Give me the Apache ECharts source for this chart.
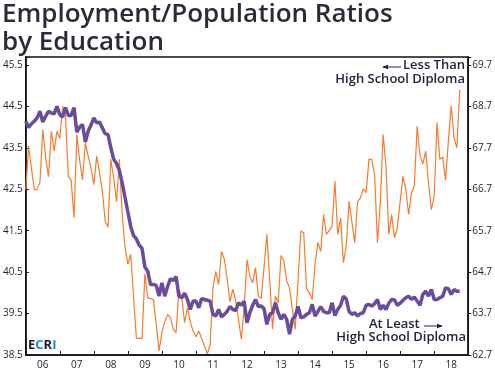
<!DOCTYPE html>
<html>
<head>
<meta charset="utf-8">
<script src="https://cdn.jsdelivr.net/npm/echarts@6/dist/echarts.min.js"></script>
<style>
  html, body { margin: 0; padding: 0; background: #fff; }
  #chart { width: 495px; height: 375px; }
</style>
</head>
<body>
<div id="chart"></div>
<script>
// monthly, Jan 2006 .. Oct 2018
const atLeastHS = [
  44.14, 43.99, 44.08, 44.14, 44.22, 44.38, 44.12, 44.26, 44.38, 44.34, 44.32, 44.50,
  44.30, 44.24, 44.47, 44.28, 44.28, 44.47, 43.88, 44.00, 44.06, 43.64, 43.90, 44.05,
  44.22, 44.10, 44.12, 43.98, 43.84, 43.82, 43.50, 43.22, 43.12, 42.95, 42.65, 42.30,
  41.95, 41.60, 41.38, 41.30, 41.15, 41.07, 40.62, 40.52, 40.20, 40.20, 40.18, 39.92,
  40.24, 39.92, 40.15, 40.34, 40.30, 40.39, 39.92, 39.88, 39.99, 39.84, 39.60, 39.80,
  39.80, 39.64, 39.86, 39.84, 39.82, 39.80, 39.48, 39.44, 39.60, 39.42, 39.48, 39.55,
  39.67, 39.60, 39.57, 39.76, 39.70, 39.80, 39.28, 39.52, 39.70, 39.84, 39.67, 39.68,
  39.62, 39.24, 39.48, 39.52, 39.76, 39.52, 39.36, 39.48, 39.36, 39.00, 39.36, 39.44,
  39.67, 39.40, 39.42, 39.48, 39.52, 39.72, 39.44, 39.55, 39.67, 39.55, 39.52, 39.52,
  39.76, 39.45, 39.60, 39.70, 39.92, 39.85, 39.55, 39.48, 39.52, 39.44, 39.50, 39.52,
  39.70, 39.72, 39.68, 39.74, 39.84, 39.60, 39.70, 39.60, 39.75, 39.84, 39.83, 39.70,
  39.75, 39.82, 39.88, 39.92, 39.84, 39.90, 39.80, 39.70, 39.96, 40.04, 39.92, 40.08,
  39.84, 39.84, 39.88, 39.92, 40.12, 40.10, 39.96, 40.08, 40.04, 40.04
];
const lessThanHS = [
  66.70, 67.74, 67.20, 66.69, 66.69, 66.87, 68.14, 67.46, 67.00, 68.10, 67.62, 68.10,
  67.92, 68.70, 68.46, 67.01, 66.92, 66.01, 68.02, 67.40, 66.93, 67.82, 67.50, 67.22,
  66.81, 67.50, 67.10, 66.65, 65.93, 65.78, 67.42, 66.97, 66.40, 67.42, 66.09, 65.29,
  64.89, 65.13, 64.10, 63.10, 63.10, 63.10, 64.66, 64.08, 64.06, 64.04, 63.45, 62.80,
  63.24, 63.50, 63.68, 63.60, 63.32, 63.24, 64.28, 64.08, 63.48, 63.84, 63.50, 63.28,
  63.14, 63.28, 63.10, 62.92, 62.73, 62.94, 64.32, 64.72, 64.40, 65.20, 65.02, 64.54,
  63.98, 64.29, 64.02, 63.56, 63.08, 63.84, 65.00, 64.60, 64.44, 64.81, 64.12, 64.06,
  64.80, 65.61, 64.52, 63.32, 64.12, 63.96, 65.10, 64.97, 64.48, 64.32, 63.80, 63.32,
  64.50, 65.69, 65.65, 64.30, 64.20, 64.04, 64.89, 65.41, 65.20, 66.09, 65.61, 65.70,
  65.81, 66.89, 65.61, 66.01, 64.93, 65.33, 66.41, 65.90, 65.41, 66.40, 66.49, 66.71,
  66.61, 67.42, 67.42, 67.05, 65.41, 66.37, 68.02, 67.25, 65.61, 66.09, 65.53, 65.77,
  66.40, 67.01, 66.69, 66.09, 66.61, 66.79, 68.22, 67.50, 67.31, 67.62, 66.85, 66.21,
  66.53, 68.31, 67.42, 67.48, 66.92, 67.86, 68.72, 67.94, 67.70, 69.10
];

// axis runs Jan 2006 .. Jan 2019
const months = [];
for (let y = 2006; y <= 2019; y++) {
  for (let m = 1; m <= 12; m++) {
    months.push(y + '-' + String(m).padStart(2, '0'));
    if (y === 2019) break;
  }
}
const leftTicks = [38.5, 39.5, 40.5, 41.5, 42.5, 43.5, 44.5, 45.5];
const rightTicks = [62.7, 63.7, 64.7, 65.7, 66.7, 67.7, 68.7, 69.7];

const ink = '#23243a';
const font = 'Open Sans';

function tickFmt(list) {
  return v => list.some(t => Math.abs(t - v) < 0.01) ? v.toFixed(1) : '';
}

const chart = echarts.init(document.getElementById('chart'));
chart.setOption({
  animation: false,
  title: {
    text: 'Employment/Population Ratios\nby Education',
    left: 2, top: 1, padding: 0,
    textStyle: { fontFamily: font, fontSize: 26, lineHeight: 28, fontWeight: 600, color: '#2b2b38' }
  },
  grid: {
    left: 23, right: 23, top: 57, bottom: 20,
    show: true, borderColor: '#111', borderWidth: 1.5, backgroundColor: 'transparent'
  },
  xAxis: {
    type: 'category',
    data: months,
    boundaryGap: false,
    axisLine: { lineStyle: { color: '#111', width: 1.5 } },
    axisTick: {
      inside: true, length: 4, lineStyle: { color: '#111' },
      interval: (i, v) => v.endsWith('-01')
    },
    axisLabel: {
      interval: (i, v) => v.endsWith('-07'),
      formatter: v => v.slice(2, 4),
      fontFamily: font, fontSize: 10, color: ink, margin: 5
    },
    splitLine: { show: false }
  },
  yAxis: [
    {
      type: 'value', position: 'left',
      min: 38.5, max: 45.69, interval: 1,
      axisLine: { show: true, lineStyle: { color: '#111', width: 1.5 } },
      axisTick: { show: true, inside: true, length: 3, lineStyle: { color: '#111' } },
      axisLabel: { formatter: tickFmt(leftTicks), fontFamily: font, fontSize: 10, color: ink, margin: 3 },
      splitLine: { show: false }
    },
    {
      type: 'value', position: 'right',
      min: 62.7, max: 69.89, interval: 1,
      axisLine: { show: true, lineStyle: { color: '#111', width: 1.5 } },
      axisTick: { show: true, inside: false, length: 3, lineStyle: { color: '#111' } },
      axisLabel: { formatter: tickFmt(rightTicks), fontFamily: font, fontSize: 10, color: ink, margin: 4 },
      splitLine: { show: false }
    }
  ],
  series: [
    {
      name: 'Less Than High School Diploma',
      type: 'line', yAxisIndex: 1,
      data: lessThanHS,
      symbol: 'none',
      lineStyle: { color: '#f47c2c', width: 1.2 }
    },
    {
      name: 'At Least High School Diploma',
      type: 'line', yAxisIndex: 0,
      data: atLeastHS,
      symbol: 'none',
      lineStyle: { color: '#6a4c9c', width: 3.5 }
    }
  ],
  graphic: [
    {
      type: 'text', right: 30, top: 59,
      style: { text: 'Less Than', font: '600 13px "Open Sans"', fill: ink }
    },
    {
      type: 'text', right: 30, top: 73,
      style: { text: 'High School Diploma', font: '600 13px "Open Sans"', fill: ink }
    },
    { type: 'line', shape: { x1: 383, y1: 67, x2: 401, y2: 67 }, style: { stroke: ink, lineWidth: 1 } },
    { type: 'polygon', shape: { points: [[382, 67], [388, 64.8], [388, 69.2]] }, style: { fill: ink } },
    {
      type: 'text', left: 369, top: 318,
      style: { text: 'At Least', font: '600 13px "Open Sans"', fill: ink }
    },
    {
      type: 'text', right: 29, top: 331,
      style: { text: 'High School Diploma', font: '600 13px "Open Sans"', fill: ink }
    },
    { type: 'line', shape: { x1: 424, y1: 326, x2: 442, y2: 326 }, style: { stroke: ink, lineWidth: 1 } },
    { type: 'polygon', shape: { points: [[443, 326], [437, 323.8], [437, 328.2]] }, style: { fill: ink } },
    {
      type: 'text', left: 28, top: 339,
      style: {
        text: '{k|E}{b|C}{k|R}{b|I}',
        rich: {
          k: { font: 'bold 13px "Open Sans"', fill: '#1d1d26' },
          b: { font: 'bold 13px "Open Sans"', fill: '#1e8bd3' }
        }
      }
    }
  ]
});
</script>
</body>
</html>
